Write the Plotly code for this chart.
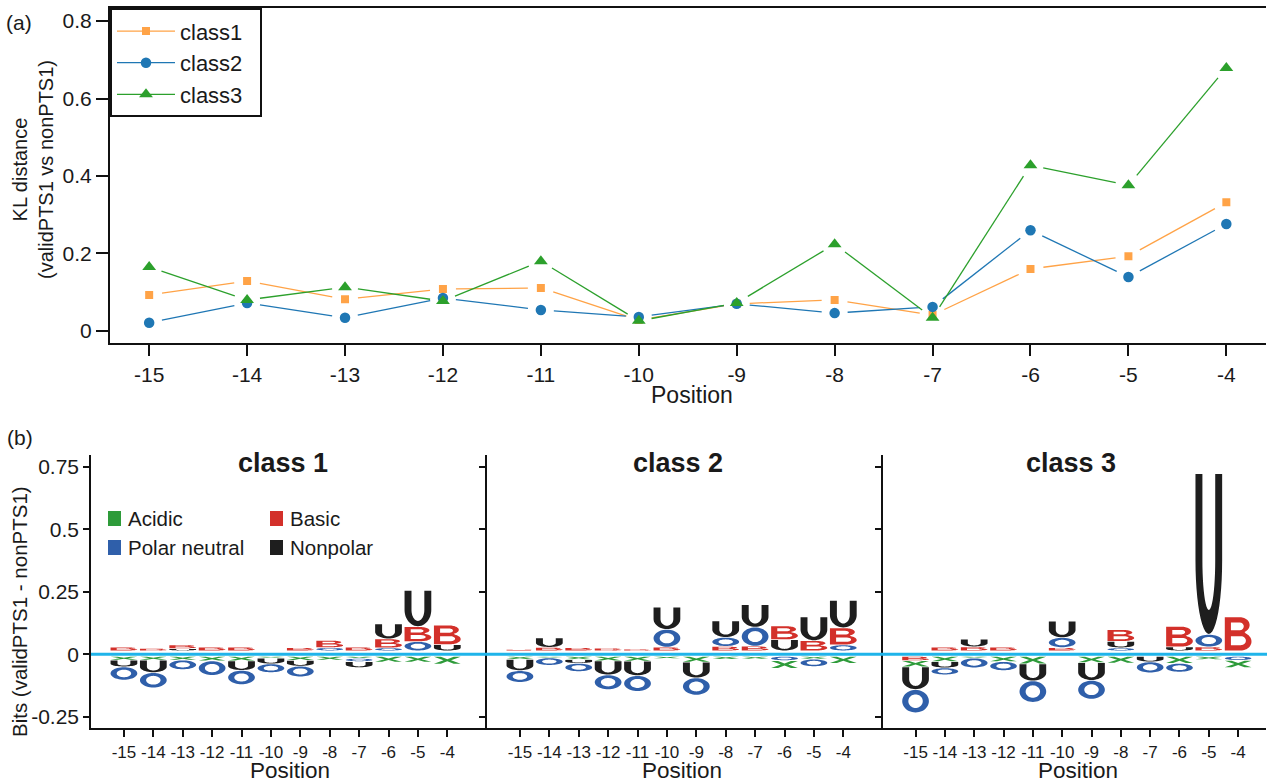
import math
import plotly.graph_objects as go

W, H = 1267, 782

# ---------------- data ----------------
positions = [-15, -14, -13, -12, -11, -10, -9, -8, -7, -6, -5, -4]
position_labels = [str(p) for p in positions]

kl_class1 = [0.093, 0.129, 0.082, 0.108, 0.111, 0.028, 0.070, 0.080, 0.041, 0.160, 0.193, 0.332]
kl_class2 = [0.021, 0.072, 0.034, 0.085, 0.054, 0.036, 0.070, 0.046, 0.062, 0.260, 0.139, 0.276]
kl_class3 = [0.165, 0.080, 0.113, 0.077, 0.180, 0.026, 0.072, 0.224, 0.034, 0.428, 0.376, 0.679]

# logo letter heights (bits, signed): X = acidic, B = basic, O = polar neutral, U = nonpolar
class1_acidic = [-0.012, -0.012, -0.012, -0.015, -0.015, -0.004, -0.013, -0.012, -0.005, -0.020, -0.020, -0.028]
class1_basic = [0.012, 0.007, 0.012, 0.012, 0.012, 0.000, 0.010, 0.026, 0.012, 0.033, 0.057, 0.075]
class1_polar = [-0.050, -0.058, -0.035, -0.055, -0.054, -0.032, -0.040, 0.010, -0.010, 0.009, 0.034, 0.000]
class1_nonpolar = [-0.024, -0.047, 0.006, 0.000, -0.035, -0.020, -0.020, 0.000, -0.021, 0.057, 0.142, 0.022]

class2_acidic = [-0.009, -0.003, -0.010, -0.015, -0.016, -0.006, -0.020, -0.009, -0.008, -0.028, -0.008, -0.025]
class2_basic = [0.003, 0.011, 0.010, 0.008, 0.004, 0.012, 0.000, 0.015, 0.016, 0.052, 0.038, 0.065]
class2_polar = [-0.044, -0.027, -0.030, -0.056, -0.060, 0.068, -0.066, 0.033, 0.073, -0.014, -0.027, 0.021]
class2_nonpolar = [-0.042, 0.035, -0.012, -0.053, -0.055, 0.086, -0.060, 0.063, 0.087, 0.042, 0.092, 0.107]

class3_acidic = [-0.022, -0.018, -0.004, -0.018, -0.027, 0.000, -0.022, -0.024, 0.000, -0.025, -0.010, -0.026]
class3_basic = [-0.014, 0.012, 0.013, 0.012, 0.000, 0.010, 0.000, 0.044, 0.000, 0.079, 0.013, 0.133]
class3_polar = [-0.090, -0.025, -0.036, -0.033, -0.083, 0.037, -0.072, 0.009, -0.041, -0.032, 0.047, -0.013]
class3_nonpolar = [-0.088, -0.022, 0.028, 0.000, -0.065, 0.063, -0.068, 0.023, -0.019, 0.013, 0.640, 0.000]

panel_titles = ["class 1", "class 2", "class 3"]
series_names = ["class1", "class2", "class3"]
group_names = ["Acidic", "Basic", "Polar neutral", "Nonpolar"]

# ---------------- style ----------------
FONT = "Arial, Liberation Sans, sans-serif"
TXT = "#1a1a1a"
line_colors = ["#FFA347", "#1F77B4", "#2CA02C"]
symbols = ["square", "circle", "triangle-up"]
msizes = [8, 10.5, 12]
letter_colors = {"X": "#2E9B3A", "B": "#D3302A", "O": "#2F5FAA", "U": "#1E1E1E"}
group_colors = ["#2E9B3A", "#D3302A", "#2F5FAA", "#1E1E1E"]


def fx(px):
    return px / W


def fy(py):
    return 1 - py / H


# top panel geometry
TOP_X = (110, 1266)
TOP_Y = (8.3, 343.3)
top_xr = [-15.40, -3.595]
top_yr = [-0.032, 0.833]

# bottom panels geometry
BOT_Y = (455, 727.7)
bot_yr = [-0.294, 0.797]
panel_px = [(91, 487), (487, 883), (883, 1266)]
panel_xr = [[-16.12, -2.65], [-16.12, -2.65], [-16.11, -3.05]]

fig = go.Figure()

# ---------------- (a) KL distance lines ----------------
kx = (TOP_X[1] - TOP_X[0]) / (top_xr[1] - top_xr[0])
ky = (TOP_Y[1] - TOP_Y[0]) / (top_yr[1] - top_yr[0])
GAP = 13.0
for vals, col, sym, ms, nm in zip([kl_class1, kl_class2, kl_class3], line_colors, symbols, msizes, series_names):
    xs, ys = [], []
    for i in range(len(positions) - 1):
        x0, y0, x1, y1 = positions[i], vals[i], positions[i + 1], vals[i + 1]
        dxp, dyp = (x1 - x0) * kx, (y1 - y0) * ky
        L = math.hypot(dxp, dyp)
        if L <= 2 * GAP:
            continue
        f = GAP / L
        xs += [x0 + f * (x1 - x0), x1 - f * (x1 - x0), None]
        ys += [y0 + f * (y1 - y0), y1 - f * (y1 - y0), None]
    fig.add_trace(go.Scatter(x=xs, y=ys, mode="lines", line=dict(color=col, width=1.3),
                             showlegend=False, hoverinfo="skip", xaxis="x", yaxis="y"))
    fig.add_trace(go.Scatter(x=positions, y=vals, mode="markers", name=nm, showlegend=False,
                             marker=dict(symbol=sym, size=ms, color=col, line=dict(width=0)),
                             xaxis="x", yaxis="y"))
    fig.add_trace(go.Scatter(x=[None], y=[None], mode="lines+markers", name=nm + "\u00a0\u00a0",
                             line=dict(color=col, width=1.3),
                             marker=dict(symbol=sym, size=ms, color=col), xaxis="x", yaxis="y"))


# ---------------- (b) sequence logos ----------------
def arc(cx, cy, rx, ry, a0, a1, n=24):
    pts = []
    for k in range(n + 1):
        a = math.radians(a0 + (a1 - a0) * k / n)
        pts.append((cx + rx * math.cos(a), cy + ry * math.sin(a)))
    return pts


def glyph(letter):
    """Return list of closed contours in unit box [0,1]x[0,1]."""
    if letter == "U":
        t, r = 0.26, 0.46
        outer = [(0, 1), (0, r)] + arc(0.5, r, 0.5, r, 180, 360) + [(1, 1), (1 - t, 1), (1 - t, r)]
        outer += arc(0.5, r, 0.5 - t, r - 0.15, 360, 180) + [(t, r), (t, 1)]
        return [outer]
    if letter == "O":
        return [arc(0.5, 0.5, 0.5, 0.5, 0, 360, 48), arc(0.5, 0.5, 0.27, 0.3, 0, 360, 48)]
    if letter == "B":
        outer = [(0, 0), (0.6, 0)] + arc(0.6, 0.27, 0.4, 0.27, -90, 62) + arc(0.57, 0.765, 0.36, 0.235, -62, 90) + [(0, 1)]
        h1 = [(0.23, 0.16), (0.6, 0.16)] + arc(0.6, 0.295, 0.19, 0.135, -90, 90) + [(0.23, 0.43)]
        h2 = [(0.23, 0.61), (0.56, 0.61)] + arc(0.56, 0.725, 0.15, 0.115, -90, 90) + [(0.23, 0.84)]
        return [outer, h1, h2]
    if letter == "X":
        return [[(0, 0), (0.26, 0), (0.5, 0.35), (0.74, 0), (1, 0), (0.64, 0.5),
                 (1, 1), (0.74, 1), (0.5, 0.65), (0.26, 1), (0, 1), (0.36, 0.5)]]
    return []


def letter_path(letter, xc, width, y0, y1):
    parts = []
    for contour in glyph(letter):
        pts = [(xc - width / 2 + u * width, y0 + v * (y1 - y0)) for u, v in contour]
        s = "M" + " L".join(f"{x:.4f},{y:.5f}" for x, y in pts) + " Z"
        parts.append(s)
    return " ".join(parts)


shapes = []
logo_data = [
    (class1_acidic, class1_basic, class1_polar, class1_nonpolar),
    (class2_acidic, class2_basic, class2_polar, class2_nonpolar),
    (class3_acidic, class3_basic, class3_polar, class3_nonpolar),
]
LW = 0.91
BASE_POS = 0.015
BASE_NEG = 0.010
SEP = 0.003
for pi, (acid, basic, polar, nonpolar) in enumerate(logo_data):
    xref = "x" + str(pi + 2)
    yref = "y" + str(pi + 2)
    for i, p in enumerate(positions):
        entries = [("X", acid[i]), ("B", basic[i]), ("O", polar[i]), ("U", nonpolar[i])]
        pos = sorted([e for e in entries if e[1] > 0.0005], key=lambda e: e[1])
        neg = sorted([e for e in entries if e[1] < -0.0005], key=lambda e: -e[1])
        y = BASE_POS
        for let, v in pos:
            shapes.append(dict(type="path", path=letter_path(let, p, LW, y, y + v), xref=xref, yref=yref,
                               fillcolor=letter_colors[let], line=dict(width=0), fillrule="evenodd", layer="above"))
            y += v + SEP
        y = -BASE_NEG
        for let, v in neg:
            shapes.append(dict(type="path", path=letter_path(let, p, LW, y + v, y), xref=xref, yref=yref,
                               fillcolor=letter_colors[let], line=dict(width=0), fillrule="evenodd", layer="above"))
            y += v - SEP

# zero line across all logo panels
shapes.append(dict(type="line", xref="paper", yref="y2", x0=fx(91), x1=1.0, y0=0, y1=0,
                   line=dict(color="#1FB4EA", width=3), layer="above"))

# group legend squares
sq = [(108, 511), (270, 511), (108, 540), (270, 540)]
for (sx, sy), col in zip(sq, group_colors):
    shapes.append(dict(type="rect", xref="paper", yref="paper", x0=fx(sx), x1=fx(sx + 13),
                       y0=fy(sy + 15), y1=fy(sy), fillcolor=col, line=dict(width=0)))

annotations = []
for (tx, ty), txt in zip([(126, 518), (288, 518), (126, 547), (288, 547)], group_names):
    annotations.append(dict(text=txt, x=fx(tx), y=fy(ty), xref="paper", yref="paper", xanchor="left",
                            yanchor="middle", showarrow=False, font=dict(size=20.5, color=TXT, family=FONT)))

for cx, t in zip([283, 678, 1071], panel_titles):
    annotations.append(dict(text="<b>" + t + "</b>", x=fx(cx), y=fy(463), xref="paper", yref="paper",
                            xanchor="center", yanchor="middle", showarrow=False,
                            font=dict(size=27, color=TXT, family=FONT)))

for cx in [290, 682, 1078]:
    annotations.append(dict(text="Position", x=fx(cx), y=fy(770), xref="paper", yref="paper",
                            xanchor="center", yanchor="middle", showarrow=False,
                            font=dict(size=22.5, color=TXT, family=FONT)))

annotations.append(dict(text="Position", x=fx(692), y=fy(395), xref="paper", yref="paper",
                        xanchor="center", yanchor="middle", showarrow=False,
                        font=dict(size=23, color=TXT, family=FONT)))
annotations.append(dict(text="KL distance<br>(validPTS1 vs nonPTS1)", x=fx(33), y=fy(170), xref="paper",
                        yref="paper", xanchor="center", yanchor="middle", textangle=-90, showarrow=False,
                        font=dict(size=20, color=TXT, family=FONT)))
annotations.append(dict(text="Bits (validPTS1 - nonPTS1)", x=fx(19), y=fy(612), xref="paper",
                        yref="paper", xanchor="center", yanchor="middle", textangle=-90, showarrow=False,
                        font=dict(size=20.5, color=TXT, family=FONT)))
annotations.append(dict(text="(a)", x=fx(19), y=fy(22), xref="paper", yref="paper", xanchor="center",
                        yanchor="middle", showarrow=False, font=dict(size=21, color=TXT, family=FONT)))
annotations.append(dict(text="(b)", x=fx(20), y=fy(437), xref="paper", yref="paper", xanchor="center",
                        yanchor="middle", showarrow=False, font=dict(size=21, color=TXT, family=FONT)))

axis_common = dict(showgrid=False, zeroline=False, showline=True, linecolor="#111", ticks="outside",
                   tickcolor="#111", tickfont=dict(family=FONT, color=TXT))

layout = dict(
    width=W, height=H, margin=dict(l=0, r=0, t=0, b=0),
    paper_bgcolor="white", plot_bgcolor="white",
    font=dict(family=FONT, color=TXT),
    showlegend=True,
    legend=dict(x=fx(110), y=fy(8.3), xanchor="left", yanchor="top", bgcolor="white",
                bordercolor="#111", borderwidth=2, font=dict(size=22, family=FONT, color=TXT),
                tracegroupgap=0, itemwidth=58),
    shapes=shapes, annotations=annotations,
    xaxis=dict(axis_common, domain=[fx(TOP_X[0]), fx(TOP_X[1])], range=top_xr, tickvals=positions,
               ticktext=position_labels, ticklen=11, tickwidth=2, linewidth=2, mirror=True,
               tickfont=dict(size=21, family=FONT, color=TXT), anchor="y"),
    yaxis=dict(axis_common, domain=[fy(TOP_Y[1]), fy(TOP_Y[0])], range=top_yr,
               tickvals=[0, 0.2, 0.4, 0.6, 0.8], ticktext=["0", "0.2", "0.4", "0.6", "0.8"],
               ticklen=12, tickwidth=2, linewidth=2, tickfont=dict(size=21, family=FONT, color=TXT),
               anchor="x"),
)

for pi in range(3):
    xa = "xaxis" + str(pi + 2)
    ya = "yaxis" + str(pi + 2)
    layout[xa] = dict(axis_common, domain=[fx(panel_px[pi][0]), fx(panel_px[pi][1])], range=panel_xr[pi],
                      tickvals=positions, ticktext=position_labels, ticklen=8, tickwidth=1.5, linewidth=1.5,
                      tickfont=dict(size=17, family=FONT, color=TXT), anchor="y" + str(pi + 2))
    layout[ya] = dict(axis_common, domain=[fy(BOT_Y[1]), fy(BOT_Y[0])], range=bot_yr,
                      tickvals=[-0.25, 0, 0.25, 0.5, 0.75], ticktext=["-0.25", "0", "0.25", "0.5", "0.75"],
                      ticklen=6, tickwidth=1.5, linewidth=1.5, showticklabels=(pi == 0),
                      tickfont=dict(size=21, family=FONT, color=TXT), anchor="x" + str(pi + 2))
    # invisible anchor trace so each logo axis is active
    fig.add_trace(go.Scatter(x=[positions[0]], y=[0], mode="markers", marker=dict(opacity=0),
                             showlegend=False, hoverinfo="skip", xaxis="x" + str(pi + 2),
                             yaxis="y" + str(pi + 2)))

fig.update_layout(**layout)
fig.write_html("out.html", config={"displayModeBar": False},
               post_script="document.body.style.margin='0px';document.body.style.overflow='hidden';")
